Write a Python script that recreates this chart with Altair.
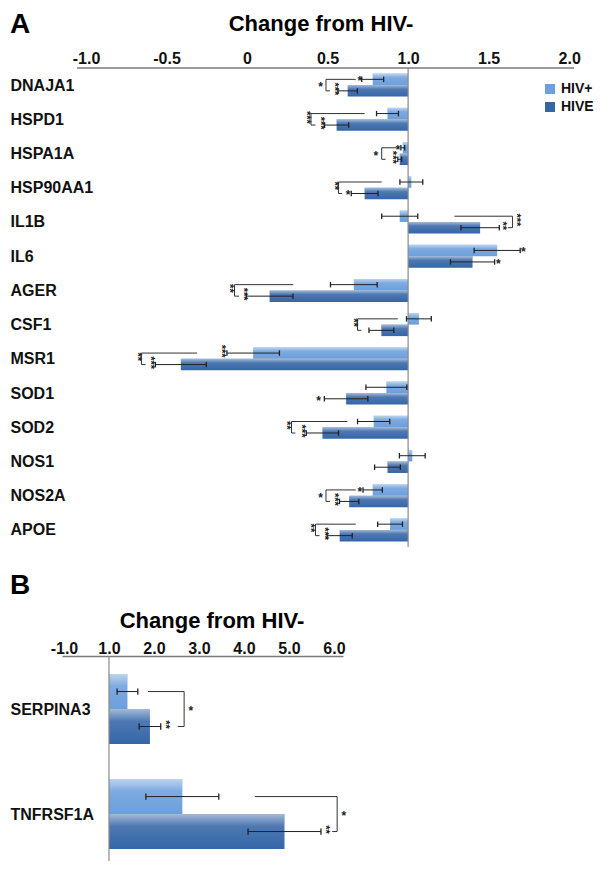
import json
import altair as alt
import pandas as pd

# ---------------- data: panel A ----------------
genes_a = ["DNAJA1", "HSPD1", "HSPA1A", "HSP90AA1", "IL1B", "IL6", "AGER",
           "CSF1", "MSR1", "SOD1", "SOD2", "NOS1", "NOS2A", "APOE"]
hivp_a = [0.78, 0.872, 0.967, 1.02, 0.948, 1.553, 0.663, 1.067, 0.038, 0.865, 0.786, 1.026, 0.78, 0.888]
hivp_a_err = [0.068, 0.068, 0.012, 0.071, 0.112, 0.143, 0.145, 0.077, 0.163, 0.127, 0.10, 0.08, 0.06, 0.077]
hive_a = [0.625, 0.556, 0.948, 0.73, 1.447, 1.40, 0.14, 0.834, -0.411, 0.615, 0.468, 0.872, 0.634, 0.575]
hive_a_err = [0.06, 0.075, 0.012, 0.083, 0.119, 0.137, 0.145, 0.077, 0.158, 0.135, 0.10, 0.08, 0.06, 0.078]

star_a_row = [1, 1, 1, 2, 2, 3, 3, 3, 4, 4, 5, 5, 6, 6, 7, 7, 8, 9, 9, 9, 10, 11, 11, 13, 13, 13, 14, 14]
star_a_level = ["p", "m", "e", "m", "e", "p", "m", "e", "m", "e", "m", "e", "p", "e", "m", "e", "m",
                "m", "e", "p", "e", "m", "e", "p", "m", "e", "m", "e"]
star_a_x = [0.70, 0.456, 0.537, 0.366, 0.456, 0.936, 0.80, 0.90, 0.537, 0.627, 1.667, 1.58, 1.715, 1.56,
            -0.114, -0.024, 0.656, -0.686, -0.601, -0.164, 0.444, 0.242, 0.337, 0.70, 0.456, 0.537, 0.39, 0.48]
star_a_text = ["*", "*", "***", "***", "***", "*", "*", "***", "**", "*", "***", "**", "*", "*",
               "**", "***", "**", "**", "***", "***", "*", "**", "***", "*", "*", "***", "**", "***"]

bracket_a_row = [1, 2, 3, 4, 5, 7, 8, 9, 11, 13, 14]
bracket_a_x = [0.49, 0.397, 0.836, 0.568, 1.648, -0.078, 0.686, -0.656, 0.276, 0.49, 0.425]
bracket_a_top = [0.675, 0.73, 0.924, 0.836, 1.287, 0.287, 0.936, -0.311, 0.622, 0.675, 0.675]
bracket_a_bot = [0.515, 0.425, 0.86, 0.59, 1.62, -0.05, 0.71, -0.63, 0.30, 0.515, 0.45]

ticks_a = [-1.0, -0.5, 0.0, 0.5, 1.0, 1.5, 2.0]
tick_a_labels = ["-1.0", "-0.5", "0", "0.5", "1.0", "1.5", "2.0"]

# ---------------- data: panel B ----------------
genes_b = ["SERPINA3", "TNFRSF1A"]
hivp_b = [1.41, 2.63]
hivp_b_err = [0.23, 0.81]
hive_b = [1.91, 4.90]
hive_b_err = [0.24, 0.81]

star_b_row = [1, 1, 2, 2]
star_b_level = ["m", "e", "m", "e"]
star_b_x = [2.82, 2.24, 6.22, 5.8]
star_b_text = ["*", "**", "*", "**"]

bracket_b_row = [1, 2]
bracket_b_x = [2.67, 6.07]
bracket_b_top = [1.87, 4.24]
bracket_b_bot = [2.53, 5.96]

ticks_b = [0, 1, 2, 3, 4, 5, 6]
tick_b_labels = ["-1.0", "1.0", "2.0", "3.0", "4.0", "5.0", "6.0"]

groups = ["HIV+", "HIVE"]
colors = ["#6c9fdc", "#3566a8"]
FONT = "Liberation Sans"


def label_map(values, labels):
    def key(v):
        return ("%g" % v)
    return "{" + ",".join("'%s':'%s'" % (key(v), l) for v, l in zip(values, labels)) + "}[datum.value + '']"


def panel(genes, plus, plus_err, hive, hive_err, s_row, s_level, s_x, s_text,
          b_row, b_x, b_top, b_bot, xdomain, width, height, ydomain, bar_h, cap_h,
          xaxis, axisline, letter, letter_y, title_x, title_y, label_pad):
    off = bar_h / 2.0
    bars, errs, caps = [], [], []
    for i, g in enumerate(genes):
        r = i + 1
        for grp, val, err, top, bot in (("HIV+", plus[i], plus_err[i], r - bar_h, r),
                                        ("HIVE", hive[i], hive_err[i], r, r + bar_h)):
            bars.append(dict(gene=g, group=grp, base=1.0, value=val, ytop=top, ybot=bot))
            ym = (top + bot) / 2.0
            errs.append(dict(lo=val - err, hi=val + err, y=ym))
            caps.append(dict(x=val - err, y1=ym - cap_h, y2=ym + cap_h))
            caps.append(dict(x=val + err, y1=ym - cap_h, y2=ym + cap_h))
    bars = pd.DataFrame(bars)
    errs = pd.DataFrame(errs)
    caps = pd.DataFrame(caps)

    lvl = {"p": -off, "m": 0.0, "e": off}
    stars = pd.DataFrame(dict(x=s_x, y=[r + lvl[l] for r, l in zip(s_row, s_level)], t=s_text))
    stars_h = stars[stars.t.str.len() == 1]
    stars_v = stars[stars.t.str.len() > 1]

    segs = []
    for r, bx, bt, bb in zip(b_row, b_x, b_top, b_bot):
        segs.append(dict(x=bx, x2=bt, y=r - off, y2=r - off))
        segs.append(dict(x=bx, x2=bx, y=r - off, y2=r + off))
        segs.append(dict(x=bx, x2=bb, y=r + off, y2=r + off))
    segs = pd.DataFrame(segs)

    xs = alt.Scale(domain=xdomain, nice=False, zero=False)
    ys = alt.Scale(domain=ydomain, nice=False, zero=False, reverse=True)
    label_expr = json.dumps(genes).replace('"', "'") + "[datum.value - 1]"
    yaxis = alt.Axis(values=list(range(1, len(genes) + 1)), labelExpr=label_expr, title=None,
                     domain=False, ticks=False, grid=False, labelAlign="left", labelPadding=label_pad,
                     labelFont=FONT, labelFontSize=16, labelFontWeight="bold", labelColor="#111",
                     labelBaseline="middle", labelFlush=False)

    def X(f):
        return alt.X(f, type="quantitative", scale=xs, axis=xaxis)

    def Y(f):
        return alt.Y(f, type="quantitative", scale=ys, axis=yaxis)

    color = alt.Color("group:N", scale=alt.Scale(domain=groups, range=colors),
                      legend=alt.Legend(orient="none", legendX=481, legendY=14, title=None,
                                        padding=0, symbolType="square", symbolSize=100,
                                        symbolStrokeWidth=0, labelFont=FONT, labelFontSize=14,
                                        labelFontWeight="bold", labelColor="#111", rowPadding=4))

    base_bars = alt.Chart(bars).mark_bar().encode(
        x=X("base"), x2="value", y=Y("ytop"), y2="ybot", color=color)
    shine = alt.Chart(bars).mark_bar(fill=alt.LinearGradient(
        gradient="linear", x1=0, y1=0, x2=0, y2=1,
        stops=[alt.GradientStop(color="rgba(255,255,255,0.55)", offset=0),
               alt.GradientStop(color="rgba(255,255,255,0.12)", offset=0.35),
               alt.GradientStop(color="rgba(255,255,255,0)", offset=1)])).encode(
        x=X("base"), x2="value", y=Y("ytop"), y2="ybot")

    vline = alt.Chart(pd.DataFrame(dict(x=[1.0], y=[ydomain[0]], y2=[ydomain[1]]))).mark_rule(
        color="#8a8a8a", strokeWidth=1.2).encode(x=X("x"), y=Y("y"), y2="y2")

    err_rule = alt.Chart(errs).mark_rule(color="#222", strokeWidth=1).encode(
        x=X("lo"), x2="hi", y=Y("y"))
    cap_rule = alt.Chart(caps).mark_rule(color="#222", strokeWidth=1.3).encode(
        x=X("x"), y=Y("y1"), y2="y2")
    br = alt.Chart(segs).mark_rule(color="#333", strokeWidth=1).encode(
        x=X("x"), x2="x2", y=Y("y"), y2="y2")
    st_h = alt.Chart(stars_h).mark_text(font=FONT, fontSize=12, fontWeight="bold", color="#222",
                                        baseline="middle", align="center", dy=2).encode(
        x=X("x"), y=Y("y"), text="t:N")
    st_v = alt.Chart(stars_v).mark_text(font=FONT, fontSize=11, fontWeight="bold", color="#222",
                                        baseline="middle", align="center", angle=90, dx=-2).encode(
        x=X("x"), y=Y("y"), text="t:N")

    txt = pd.DataFrame(dict(t=[letter]))
    let = alt.Chart(txt).mark_text(font=FONT, fontSize=28, fontWeight="bold", color="#000",
                                   align="left", baseline="middle").encode(
        x=alt.value(-label_pad), y=alt.value(letter_y), text="t:N")
    ttl = alt.Chart(pd.DataFrame(dict(t=["Change from HIV-"]))).mark_text(
        font=FONT, fontSize=22, fontWeight="bold", color="#000", align="center",
        baseline="middle").encode(x=alt.value(title_x), y=alt.value(title_y), text="t:N")

    layers = [base_bars, shine, vline, err_rule, cap_rule, br, st_h, st_v, let, ttl]
    if axisline is not None:
        al = alt.Chart(pd.DataFrame(dict(x=[axisline[0]], x2=[axisline[1]]))).mark_rule(
            color="#7a7a7a", strokeWidth=1.5).encode(x=X("x"), x2="x2", y=alt.value(0))
        layers.insert(2, al)
    return alt.layer(*layers).properties(width=width, height=height)


axis_a = alt.Axis(orient="top", values=ticks_a, title=None, domain=False, ticks=False, tickSize=0,
                  grid=False, labelPadding=2, labelFlush=False, labelFont=FONT, labelFontSize=16,
                  labelFontWeight="bold", labelColor="#111",
                  labelExpr=label_map(ticks_a, tick_a_labels))
axis_b = alt.Axis(orient="top", values=ticks_b, title=None, domain=True, domainColor="#7a7a7a",
                  domainWidth=1.5, ticks=False, tickSize=0, grid=False, labelPadding=0,
                  labelFlush=False, labelFont=FONT, labelFontSize=16, labelFontWeight="bold",
                  labelColor="#111", labelExpr=label_map(ticks_b, tick_b_labels))

panel_a = panel(genes_a, hivp_a, hivp_a_err, hive_a, hive_a_err,
                star_a_row, star_a_level, star_a_x, star_a_text,
                bracket_a_row, bracket_a_x, bracket_a_top, bracket_a_bot,
                xdomain=[-1.149, 2.03], width=512, height=479, ydomain=[0.5, 14.5],
                bar_h=0.336, cap_h=0.08, xaxis=axis_a, axisline=[-1.056, 2.03],
                letter="A", letter_y=-43, title_x=259, title_y=-44, label_pad=52)

panel_b = panel(genes_b, hivp_b, hivp_b_err, hive_b, hive_b_err,
                star_b_row, star_b_level, star_b_x, star_b_text,
                bracket_b_row, bracket_b_x, bracket_b_top, bracket_b_bot,
                xdomain=[-0.044, 6.2], width=281, height=205, ydomain=[0.495, 2.447],
                bar_h=0.333, cap_h=0.03, xaxis=axis_b, axisline=None,
                letter="B", letter_y=-70, title_x=150, title_y=-35, label_pad=52)

chart = alt.vconcat(panel_a, panel_b, spacing=24).properties(
    padding={"left": 2, "top": 3, "right": 0, "bottom": 0},
    background="white",
).configure_view(stroke=None)

chart.save("out.html", embed_options={"renderer": "svg", "actions": False})
